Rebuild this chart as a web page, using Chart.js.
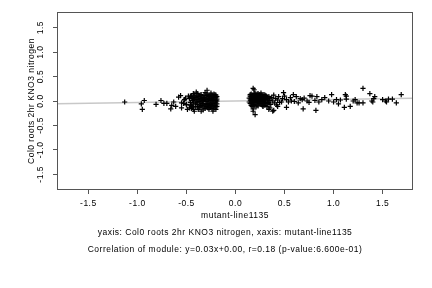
<!DOCTYPE html>
<html>
<head>
<meta charset="utf-8">
<script src="https://cdn.jsdelivr.net/npm/chart.js@4"></script>
<style>
  html, body { margin: 0; padding: 0; background: #fff; }
  #wrap { width: 432px; height: 288px; }
</style>
</head>
<body>
<div id="wrap"><canvas id="scatter" width="432" height="288"></canvas></div>
<script>
// expression values (x: mutant-line1135, y: Col0 roots 2hr KNO3 nitrogen)
const geneX = [
  -1.13, -0.96, -0.95, -0.93, -0.81, -0.76, -0.73, -0.70, -0.66, -0.65, -0.63, -0.61,
  -0.58, -0.56, -0.55, -0.55, -0.53, -0.52, -0.52, -0.51, -0.50, -0.50, -0.49, -0.48,
  -0.47, -0.47, -0.46, -0.45, -0.45, -0.45, -0.44, -0.43, -0.43, -0.43, -0.42, -0.42,
  -0.42, -0.41, -0.40, -0.40, -0.40, -0.39, -0.39, -0.38, -0.38, -0.37, -0.37, -0.36,
  -0.36, -0.35, -0.35, -0.35, -0.34, -0.34, -0.33, -0.33, -0.33, -0.32, -0.32, -0.31,
  -0.31, -0.31, -0.30, -0.30, -0.29, -0.29, -0.29, -0.28, -0.28, -0.27, -0.27, -0.27,
  -0.26, -0.26, -0.25, -0.25, -0.25, -0.24, -0.24, -0.23, -0.23, -0.23, -0.22, -0.22,
  -0.22, -0.21, -0.21, -0.20, -0.20, -0.20, -0.20, -0.19, -0.19,
  0.15, 0.15, 0.15, 0.16, 0.16, 0.16, 0.17, 0.17, 0.17, 0.18, 0.18, 0.18, 0.18, 0.18,
  0.18, 0.19, 0.19, 0.19, 0.19, 0.20, 0.20, 0.20, 0.20, 0.21, 0.21, 0.21, 0.22, 0.22,
  0.22, 0.23, 0.23, 0.23, 0.24, 0.24, 0.24, 0.25, 0.25, 0.25, 0.26, 0.26, 0.26, 0.27,
  0.27, 0.27, 0.28, 0.28, 0.28, 0.28, 0.29, 0.29, 0.30, 0.30, 0.30, 0.31, 0.31, 0.32,
  0.32, 0.33, 0.33, 0.34, 0.34, 0.35, 0.35, 0.36, 0.37, 0.38, 0.38, 0.39, 0.39, 0.40,
  0.41, 0.42, 0.43, 0.43, 0.44, 0.45, 0.47, 0.48, 0.49, 0.50, 0.52, 0.52, 0.54, 0.56,
  0.57, 0.59, 0.60, 0.62, 0.64, 0.66, 0.68, 0.69, 0.70, 0.73, 0.75, 0.76, 0.78, 0.81,
  0.82, 0.83, 0.85, 0.88, 0.91, 0.95, 0.98, 1.00, 1.03, 1.05, 1.07, 1.11, 1.12, 1.13,
  1.13, 1.17, 1.20, 1.22, 1.24, 1.26, 1.30, 1.30, 1.37, 1.39, 1.40, 1.41, 1.42, 1.50,
  1.53, 1.54, 1.56, 1.60, 1.64, 1.69
];
const geneY = [
  -0.02, -0.06, -0.17, 0.01, -0.07, 0.01, -0.05, -0.05, -0.16, -0.09, -0.02, -0.11,
  0.08, 0.11, -0.04, -0.14, -0.05, 0.03, 0.02, 0.06, -0.07, -0.08, -0.17, 0.10,
  0.05, -0.14, -0.03, 0.09, -0.10, -0.15, 0.01, -0.06, 0.15, -0.17, 0.12, 0.04,
  -0.21, -0.12, -0.02, 0.08, 0.18, 0.15, -0.07, 0.02, -0.17, -0.14, 0.10, -0.04,
  0.05, -0.09, 0.13, -0.21, 0.00, -0.12, 0.07, -0.05, -0.18, 0.11, 0.03, -0.08,
  -0.15, 0.17, 0.06, -0.01, 0.14, -0.11, 0.22, 0.03, -0.05, 0.09, -0.13, -0.17,
  0.01, 0.12, -0.07, 0.05, 0.16, -0.02, -0.15, 0.10, 0.02, -0.21, -0.09, 0.07,
  -0.16, -0.04, 0.13, 0.01, -0.12, 0.08, -0.17, -0.06, 0.04,
  0.10, 0.02, -0.05, 0.14, -0.09, 0.05, 0.06, -0.02, -0.11, 0.11, -0.07, 0.00,
  -0.21, -0.16, 0.26, 0.03, 0.15, -0.09, 0.23, -0.04, 0.08, 0.16, -0.28, 0.00,
  0.12, -0.12, -0.08, 0.05, 0.11, 0.15, -0.02, -0.10, 0.09, 0.02, -0.05, -0.06,
  0.13, 0.00, 0.04, -0.01, 0.16, 0.10, -0.08, 0.04, 0.06, 0.00, -0.10, -0.11,
  0.13, -0.04, 0.08, 0.02, -0.09, -0.06, 0.11, 0.05, -0.11, -0.02, -0.05, 0.09,
  -0.17, 0.01, -0.14, -0.07, 0.07, 0.00, -0.21, 0.12, -0.19, -0.04, 0.05, -0.08,
  0.02, -0.11, 0.09, -0.03, -0.02, 0.05, 0.17, 0.10, -0.13, 0.03, -0.02, 0.07,
  0.00, 0.13, -0.01, 0.09, -0.04, 0.05, 0.03, -0.16, 0.06, 0.00, -0.03, 0.11, 0.10,
  0.01, -0.19, 0.09, -0.02, 0.03, 0.07, 0.00, 0.13, -0.02, 0.03, -0.06, 0.02, -0.13,
  0.13, 0.04, 0.10, -0.11, 0.00, 0.03, -0.04, -0.04, 0.26, -0.04, 0.15, 0.00, -0.02,
  0.05, 0.09, 0.03, 0.00, -0.02, 0.04, 0.04, -0.04, 0.13
];

// the solid-black cores of the two clusters
const coreX = [
  -0.46, -0.46, -0.44, -0.44, -0.43, -0.41, -0.41, -0.39, -0.39,
  -0.38, -0.37, -0.36, -0.36, -0.35, -0.34, -0.34, -0.33, -0.32,
  -0.32, -0.31, -0.30, -0.30, -0.29, -0.29, -0.28, -0.28, -0.27,
  -0.27, -0.26, -0.26, -0.25, -0.25, -0.24, -0.24, -0.23, -0.23,
  -0.22, -0.22, -0.21, -0.21, -0.20, -0.20, -0.19, -0.19, -0.19,
  0.14, 0.14, 0.15, 0.16, 0.16, 0.17, 0.17, 0.18, 0.18, 0.19,
  0.19, 0.20, 0.20, 0.21, 0.21, 0.22, 0.22, 0.23, 0.23, 0.24,
  0.24, 0.25, 0.25, 0.26, 0.26, 0.27, 0.27, 0.28, 0.28, 0.29,
  0.29, 0.30, 0.30, 0.31, 0.31, 0.32, 0.33, 0.34, 0.35
];
const coreY = [
  0.10, -0.08, -0.12, 0.06, 0.02, 0.07, -0.04, 0.03, -0.11,
  0.09, -0.01, 0.12, -0.10, 0.04, 0.08, -0.06, 0.01, -0.10,
  0.07, 0.04, 0.11, -0.12, 0.02, -0.07, 0.12, -0.14, 0.05,
  -0.02, -0.09, 0.08, 0.01, -0.12, 0.05, 0.12, -0.05, -0.12,
  0.03, 0.14, -0.09, 0.08, -0.02, 0.12, -0.11, 0.09, 0.00,
  0.06, -0.02, 0.13, 0.09, 0.01, 0.12, 0.03, 0.07, -0.04, 0.10,
  0.00, 0.04, 0.12, 0.08, -0.03, 0.01, 0.14, 0.06, 0.10, -0.01,
  0.13, 0.07, 0.03, 0.10, -0.05, 0.01, 0.13, 0.09, 0.03, 0.05,
  0.00, 0.12, -0.03, 0.03, 0.07, 0.09, 0.04, -0.03, 0.06
];

// fitted line y = 0.03x + 0.00, end points at the plot edges
const fitX = [-1.82, 1.81];
const fitY = [-0.055, 0.054];

const xTitle = 'mutant-line1135';
const yTitle = 'Col0 roots 2hr KNO3 nitrogen';
const noteLines = [
  'yaxis: Col0 roots 2hr KNO3 nitrogen, xaxis: mutant-line1135',
  'Correlation of module: y=0.03x+0.00, r=0.18 (p-value:6.600e-01)'
];

const FONT = '8.5px "Liberation Sans", Arial, sans-serif';
const AXIS_COLOR = '#555';

const points = geneX.map((x, i) => ({ x: x, y: geneY[i] }))
  .concat(coreX.map((x, i) => ({ x: x, y: coreY[i] })));
const fitLine = fitX.map((x, i) => ({ x: x, y: fitY[i] }));

// R-style text: rotated y tick labels, axis titles and the two note lines
const rText = {
  id: 'rText',
  afterDraw(chart) {
    const ctx = chart.ctx;
    const area = chart.chartArea;
    const xs = chart.scales.x;
    const ys = chart.scales.y;

    ctx.save();
    ctx.strokeStyle = AXIS_COLOR;
    ctx.lineWidth = 1;
    ctx.strokeRect(area.left + 0.5, area.top + 0.5, area.right - area.left - 1, area.bottom - area.top - 1);

    ctx.fillStyle = '#000';
    ctx.font = FONT;
    ctx.letterSpacing = '0.5px';
    ctx.textAlign = 'center';
    ctx.textBaseline = 'middle';

    xs.ticks.forEach(t => {
      ctx.fillText(t.value.toFixed(1), xs.getPixelForValue(t.value), 204);
    });
    ctx.fillText(xTitle, (area.left + area.right) / 2, 216);

    ys.ticks.forEach(t => {
      ctx.save();
      ctx.translate(40.5, ys.getPixelForValue(t.value));
      ctx.rotate(-Math.PI / 2);
      ctx.fillText(t.value.toFixed(1), 0, 0);
      ctx.restore();
    });

    ctx.save();
    ctx.translate(32, (area.top + area.bottom) / 2);
    ctx.rotate(-Math.PI / 2);
    ctx.fillText(yTitle, 0, 0);
    ctx.restore();

    ctx.fillText(noteLines[0], 225, 233);
    ctx.fillText(noteLines[1], 225, 249.5);
    ctx.restore();
  }
};

new Chart(document.getElementById('scatter'), {
  type: 'scatter',
  data: {
    datasets: [
      {
        label: 'genes',
        data: points,
        pointStyle: 'cross',
        pointRadius: 2.6,
        pointBorderWidth: 1.2,
        borderColor: '#000',
        backgroundColor: '#000',
        order: 1
      },
      {
        type: 'line',
        label: 'fit',
        data: fitLine,
        borderColor: '#c8c8c8',
        borderWidth: 1.5,
        pointRadius: 0,
        order: 2
      }
    ]
  },
  options: {
    responsive: false,
    animation: false,
    devicePixelRatio: 1,
    layout: { padding: { left: 57, right: 19, top: 12, bottom: 98 } },
    plugins: {
      legend: { display: false },
      tooltip: { enabled: false }
    },
    scales: {
      x: {
        type: 'linear',
        min: -1.82,
        max: 1.81,
        afterFit: s => { s.height = 0; },
        ticks: { display: false, stepSize: 0.5, includeBounds: false },
        grid: { drawOnChartArea: false, drawTicks: true, tickLength: 4, color: AXIS_COLOR },
        border: { display: false }
      },
      y: {
        type: 'linear',
        min: -1.82,
        max: 1.82,
        afterFit: s => { s.width = 0; },
        ticks: { display: false, stepSize: 0.5, includeBounds: false },
        grid: { drawOnChartArea: false, drawTicks: true, tickLength: 4, color: AXIS_COLOR },
        border: { display: false }
      }
    }
  },
  plugins: [rText]
});
</script>
</body>
</html>
